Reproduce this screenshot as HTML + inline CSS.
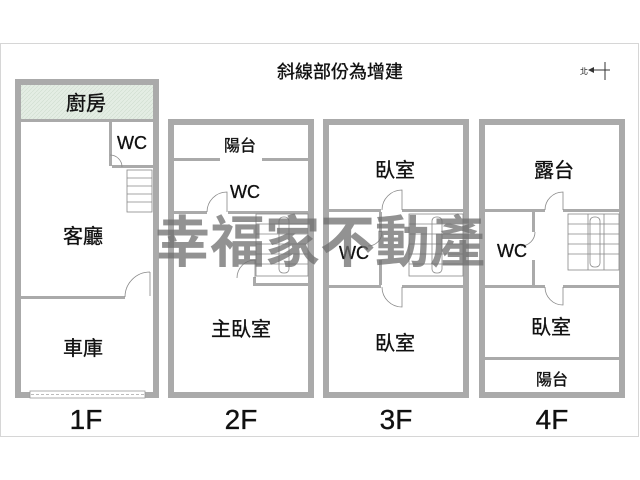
<!DOCTYPE html>
<html><head><meta charset="utf-8"><style>
html,body{margin:0;padding:0;background:#fff;}
svg{display:block;}
text{font-family:"Liberation Sans","Noto Sans CJK TC",sans-serif;fill:#111;}
.l text{stroke:#111;stroke-width:0.35;}
</style></head><body>
<svg width="640" height="480" viewBox="0 0 640 480">
<defs>
<pattern id="h" width="4" height="4" patternUnits="userSpaceOnUse"><rect width="4" height="4" fill="#e4ede4"/><path d="M0 4L4 0" stroke="#cfdccf" stroke-width="0.6"/></pattern>
</defs>
<rect x="0.5" y="43.5" width="638" height="393" fill="#fff" stroke="#d6d6d6"/>
<g class="l"><text x="340" y="78" font-size="18" text-anchor="middle">斜線部份為增建</text></g>
<g stroke="#333" stroke-width="1"><line x1="592" y1="70" x2="610" y2="70"/><line x1="605" y1="62" x2="605" y2="80"/></g>
<path d="M588 70l6-3v6z" fill="#333"/><text x="580" y="74" font-size="8">北</text>

<g fill="none" stroke="#aaa" stroke-width="6">
<rect x="18" y="82" width="138" height="313"/>
<rect x="171" y="122" width="140" height="273"/>
<rect x="326" y="122" width="140" height="273"/>
<rect x="482" y="122" width="140" height="273"/>
</g>
<rect x="21" y="85" width="132" height="34" fill="url(#h)"/>
<g fill="#aaa">
<rect x="21" y="119" width="132" height="3"/>
<rect x="109" y="122" width="3" height="44"/>
<rect x="112" y="165" width="41" height="3"/>
<rect x="21" y="296" width="104" height="3"/>
<rect x="174" y="158" width="46" height="3"/><rect x="262" y="158" width="46" height="3"/>
<rect x="174" y="211" width="33" height="3"/><rect x="228" y="211" width="80" height="3"/>
<rect x="253" y="277" width="3" height="8"/><rect x="253" y="283" width="55" height="3"/>
<rect x="329" y="209" width="52" height="3"/><rect x="402" y="209" width="61" height="3"/>
<rect x="329" y="285" width="52" height="3"/><rect x="402" y="285" width="61" height="3"/>
<rect x="379" y="212" width="3" height="20"/><rect x="379" y="260" width="3" height="25"/>
<rect x="485" y="209" width="60" height="3"/><rect x="563" y="209" width="56" height="3"/>
<rect x="485" y="285" width="60" height="3"/><rect x="563" y="285" width="56" height="3"/>
<rect x="532" y="212" width="3" height="20"/><rect x="532" y="260" width="3" height="25"/>
<rect x="485" y="357" width="134" height="3"/>
</g>
<g fill="none" stroke="#888" stroke-width="0.8">
<rect x="127" y="170" width="25" height="42"/>
<path d="M127 178h25M127 186h25M127 194h25M127 202h25"/>
<path d="M125 297a25 25 0 0 1 25-25M150 272v24"/>
<path d="M110 155a12 12 0 0 1 12 12"/>
<path d="M207 212a20 20 0 0 1 20-20v20"/>
<path d="M237 278a18 18 0 0 1 18-18v18"/>
<rect x="256" y="214" width="52" height="62"/><path d="M256 224h52M256 234h52M256 244h52M256 254h52M256 264h52"/>
<rect x="279" y="217" width="10" height="56" rx="4"/>
<rect x="409" y="214" width="54" height="62"/><path d="M409 224h54M409 234h54M409 244h54M409 254h54M409 264h54"/>
<rect x="432" y="217" width="10" height="56" rx="4"/>
<rect x="568" y="214" width="51" height="56"/><path d="M568 224h51M568 234h51M568 244h51M568 254h51M588 214v56M604 214v56"/>
<rect x="590" y="217" width="10" height="50" rx="4"/>
<path d="M382 210a20 20 0 0 1 20-20v20M382 287a20 20 0 0 0 20 20v-20"/>
<path d="M545 210a18 18 0 0 1 18-18v18M545 287a18 18 0 0 0 18 18v-18"/>
<path d="M382 232a14 14 0 0 1-14 14M535 232a14 14 0 0 1-14 14"/>
</g>
<rect x="30" y="391" width="115" height="7" fill="#fff" stroke="#999" stroke-width="0.8"/>
<line x1="31" y1="394.5" x2="144" y2="394.5" stroke="#bbb" stroke-dasharray="3 2"/>

<g class="l" font-size="20" text-anchor="middle">
<text x="86" y="110">廚房</text>
<text x="132" y="149" font-size="18">WC</text>
<text x="83" y="243">客廳</text>
<text x="83" y="355">車庫</text>
<text x="240" y="151" font-size="16">陽台</text>
<text x="245" y="198" font-size="18">WC</text>
<text x="241" y="336">主臥室</text>
<text x="395" y="177">臥室</text>
<text x="354" y="259" font-size="18">WC</text>
<text x="395" y="350">臥室</text>
<text x="554" y="177">露台</text>
<text x="512" y="257" font-size="18">WC</text>
<text x="551" y="334">臥室</text>
<text x="552" y="385" font-size="16">陽台</text>
</g>
<g class="l" font-size="28" text-anchor="middle">
<text x="86" y="429">1F</text><text x="241" y="429">2F</text><text x="396" y="429">3F</text><text x="552" y="429">4F</text>
</g>
<text x="155" y="262" font-size="56" font-weight="bold" textLength="330" lengthAdjust="spacingAndGlyphs" style="fill:rgba(110,110,110,0.75)">幸福家不動產</text>
</svg>
</body></html>
